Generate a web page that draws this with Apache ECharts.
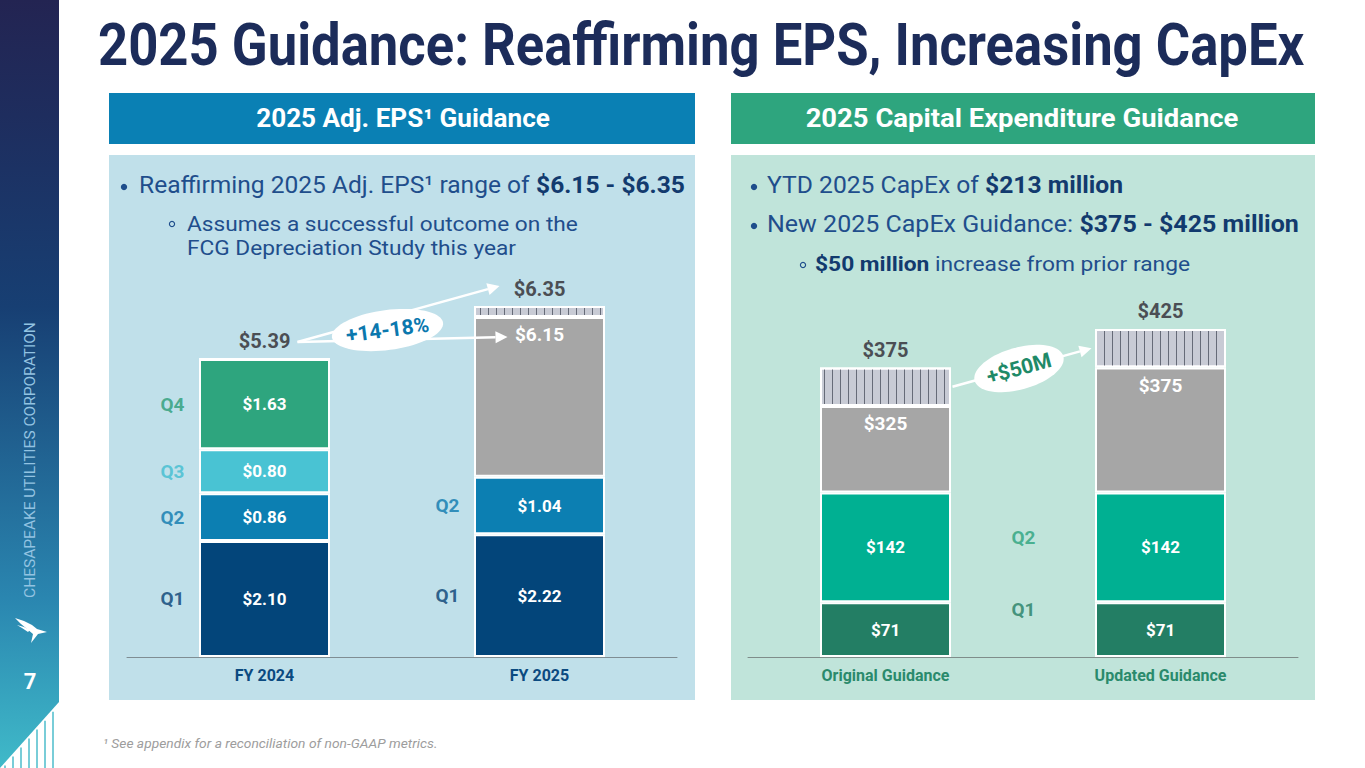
<!DOCTYPE html>
<html>
<head>
<meta charset="utf-8">
<script src="https://cdn.jsdelivr.net/npm/echarts@6/dist/echarts.min.js"></script>
<style>
html,body{margin:0;padding:0;background:#ffffff;}
#c{width:1365px;height:768px;}
</style>
</head>
<body>
<div id="c"></div>
<script>
// ---------------- DATA ----------------
const epsCategories = ['FY 2024', 'FY 2025'];
const epsQ1 = [2.10, 2.22];
const epsQ2 = [0.86, 1.04];
const epsQ3 = [0.80, null];
const epsQ4 = [1.63, null];
const epsGuideLow = [null, 6.15];
const epsGuideHigh = [null, 6.35];
const epsQuarterNames = ['Q1', 'Q2', 'Q3', 'Q4'];

const capexCategories = ['Original Guidance', 'Updated Guidance'];
const capexQ1 = [71, 71];
const capexQ2 = [142, 142];
const capexGuideLow = [325, 375];
const capexGuideHigh = [375, 425];
const capexQuarterNames = ['Q1', 'Q2'];

// ---------------- DERIVED ----------------
const epsQuarters = [epsQ1, epsQ2, epsQ3, epsQ4];
const capexQuarters = [capexQ1, capexQ2];
function sumPrev(arrs, i, k) { let s = 0; for (let j = 0; j < k; j++) { const v = arrs[j][i]; if (v != null) s += v; } return s; }
const epsRest = epsGuideLow.map((v, i) => v == null ? null : +(v - sumPrev(epsQuarters, i, 4)).toFixed(2));
const epsRange = epsCategories.map((c, i) => epsGuideLow[i] == null ? 0 : +(epsGuideHigh[i] - epsGuideLow[i]).toFixed(2));
const epsTop = epsCategories.map((c, i) => epsGuideHigh[i] != null ? epsGuideHigh[i] : +sumPrev(epsQuarters, i, 4).toFixed(2));
const capexRest = capexGuideLow.map((v, i) => v - sumPrev(capexQuarters, i, 2));
const capexRange = capexGuideHigh.map((v, i) => v - capexGuideLow[i]);

// ---------------- STYLE ----------------
const FF = 'Roboto, "Noto Sans", "DejaVu Sans", sans-serif';
const epsColors = ['#03457a', '#0c7fb2', '#49c3d3', '#2ea57e'];
const epsQLabelColors = ['#063f73', '#0b78ad', '#3fbdd0', '#2a9d77'];
const capexColors = ['#237e64', '#00b092'];
const capexQLabelColors = ['#237d63', '#2aa27c'];
const GRAY = '#a6a6a6';
const HATCH = '#c8cbd5';
const hatchDecal = { symbol: 'rect', symbolSize: 1, dashArrayX: [1, 7], dashArrayY: [4, 0], color: '#666b78', rotation: 0 };

const chart = echarts.init(document.getElementById('c'), null, { renderer: 'svg', width: 1365, height: 768 });

function valLabel(fmt, extra) {
  return Object.assign({ show: true, position: 'inside', color: '#ffffff', fontFamily: FF, fontWeight: 'bold', fontSize: 17, formatter: fmt }, extra || {});
}
function stackBar(axis, stack, name, data, color, label, extraItem) {
  return {
    type: 'bar', name: name, xAxisIndex: axis, yAxisIndex: axis, stack: stack, data: data,
    barWidth: 131,
    itemStyle: Object.assign({ color: color, borderColor: '#ffffff', borderWidth: 2 }, extraItem || {}),
    label: label,
    emphasis: { disabled: true }
  };
}

const series = [];
epsQuarters.forEach((arr, k) => {
  series.push(stackBar(0, 'eps', 'EPS ' + epsQuarterNames[k], arr, epsColors[k], valLabel(p => '$' + p.value.toFixed(2))));
});
series.push(stackBar(0, 'eps', 'EPS guidance low', epsRest, GRAY,
  valLabel(p => '$' + epsGuideLow[p.dataIndex].toFixed(2), { position: 'insideTop', distance: 8, fontSize: 19 })));
series.push(stackBar(0, 'eps', 'EPS guidance range', epsRange, HATCH,
  { show: true, position: 'top', distance: 7, color: '#4b4e54', fontFamily: FF, fontWeight: 'bold', fontSize: 20,
    formatter: p => '$' + epsTop[p.dataIndex].toFixed(2) }, { decal: hatchDecal }));

capexQuarters.forEach((arr, k) => {
  series.push(stackBar(1, 'capex', 'CapEx ' + capexQuarterNames[k], arr, capexColors[k], valLabel(p => '$' + p.value)));
});
series.push(stackBar(1, 'capex', 'CapEx guidance low', capexRest, GRAY,
  valLabel(p => '$' + capexGuideLow[p.dataIndex], { position: 'insideTop', distance: 8, fontSize: 19 })));
series.push(stackBar(1, 'capex', 'CapEx guidance range', capexRange, HATCH,
  { show: true, position: 'top', distance: 8, color: '#4b4e54', fontFamily: FF, fontWeight: 'bold', fontSize: 20,
    formatter: p => '$' + capexGuideHigh[p.dataIndex] }, { decal: hatchDecal }));

// quarter name labels (positioned at segment mid-points via the value scale)
const epsQData = [];
epsCategories.forEach((c, i) => {
  epsQuarters.forEach((arr, k) => {
    if (arr[i] == null) return;
    const mid = sumPrev(epsQuarters, i, k) + arr[i] / 2;
    epsQData.push({ value: [i, mid], name: epsQuarterNames[k], label: { color: epsQLabelColors[k], offset: [-92, 0] } });
  });
});
const capexQData = capexQuarters.map((arr, k) => ({
  value: [1, sumPrev(capexQuarters, 1, k) + arr[1] / 2], name: capexQuarterNames[k],
  label: { color: capexQLabelColors[k], offset: [-137, k === 0 ? -20 : -10] }
}));
function qSeries(axis, data) {
  return {
    type: 'scatter', xAxisIndex: axis, yAxisIndex: axis, data: data, symbolSize: 1,
    itemStyle: { color: 'rgba(0,0,0,0)' }, z: 5, emphasis: { disabled: true },
    label: { show: true, position: 'inside', fontFamily: FF, fontWeight: 'bold', fontSize: 19, formatter: p => p.name }
  };
}
series.push(qSeries(0, epsQData));
series.push(qSeries(1, capexQData));

chart.setOption({
  animation: false,
  grid: [
    { left: 127, top: 270, width: 550, height: 387 },
    { left: 748, top: 271, width: 550, height: 386 }
  ],
  xAxis: [
    { gridIndex: 0, type: 'category', data: epsCategories,
      axisLine: { lineStyle: { color: '#7f8d93', width: 1 } }, axisTick: { show: false },
      axisLabel: { color: '#0b4a80', fontFamily: FF, fontWeight: 'bold', fontSize: 16, margin: 10 } },
    { gridIndex: 1, type: 'category', data: capexCategories,
      axisLine: { lineStyle: { color: '#7f8d8a', width: 1 } }, axisTick: { show: false },
      axisLabel: { color: '#2a8a6c', fontFamily: FF, fontWeight: 'bold', fontSize: 16, margin: 10 } }
  ],
  yAxis: [
    { gridIndex: 0, type: 'value', min: 0, max: 7, show: false },
    { gridIndex: 1, type: 'value', min: 0, max: 500, show: false }
  ],
  series: series
});

// ---------------- SLIDE DECORATION ----------------
const mctx = document.createElement('canvas').getContext('2d');
function fnt(size, weight, style) { return (style || 'normal') + ' ' + (weight || 'normal') + ' ' + size + 'px ' + FF; }
function mw(t, f) { mctx.font = f; return mctx.measureText(t).width; }
function txt(x, y, t, f, fill, align, opts) {
  return Object.assign({ type: 'text', x: x, y: y, z: 10,
    style: { text: t, font: f, fill: fill, textAlign: align || 'left', align: align || 'left', textVerticalAlign: 'middle', verticalAlign: 'middle' } }, opts || {});
}
function run(x, y, segs, targetW) {
  let nat = 0;
  segs.forEach(s => { s.f = fnt(s.size, s.weight, s.style); s.w = mw(s.t, s.f); nat += s.w; });
  const k = targetW ? targetW / nat : 1;
  const out = []; let cx = x;
  segs.forEach(s => { out.push(txt(cx, y, s.t, s.f, s.color, 'left', { scaleX: k })); cx += s.w * k; });
  return out;
}
function fitCenter(cx, y, t, f, fill, targetW, opts) {
  const k = targetW / mw(t, f);
  return txt(cx, y, t, f, fill, 'center', Object.assign({ scaleX: k }, opts || {}));
}
function arrow(x1, y1, x2, y2, color, w) {
  const dx = x2 - x1, dy = y2 - y1, L = Math.hypot(dx, dy), ux = dx / L, uy = dy / L;
  const hl = 12, hw = 6;
  const bx = x2 - ux * hl, by = y2 - uy * hl;
  return [
    { type: 'line', z: 20, shape: { x1: x1, y1: y1, x2: bx, y2: by }, style: { stroke: color, lineWidth: w } },
    { type: 'polygon', z: 20, shape: { points: [[x2, y2], [bx - uy * hw, by + ux * hw], [bx + uy * hw, by - ux * hw]] }, style: { fill: color } }
  ];
}
function ellipsePts(rx, ry, n) {
  const pts = [];
  for (let i = 0; i < n; i++) { const t = 2 * Math.PI * i / n; pts.push([rx * Math.cos(t), ry * Math.sin(t)]); }
  return pts;
}
function badge(cx, cy, rx, ry, rot, t, color) {
  return [
    { type: 'polygon', x: cx, y: cy, rotation: rot, z: 21, shape: { points: ellipsePts(rx, ry, 72) }, style: { fill: '#ffffff' } },
    txt(cx, cy, t, fnt(21, 'bold'), color, 'center', { rotation: rot, z: 22 })
  ];
}
function dot(x, y) { return { type: 'circle', z: 10, shape: { cx: x, cy: y, r: 3.2 }, style: { fill: NAVY } }; }
function ring(x, y) { return { type: 'circle', z: 10, shape: { cx: x, cy: y, r: 2.6 }, style: { fill: 'none', stroke: NAVY, lineWidth: 1.2 } }; }

const NAVY = '#1f4e8c', NAVYB = '#123a6e';
let els = [];
// sidebar
els.push({ type: 'rect', z: -10, shape: { x: 0, y: 0, width: 59, height: 768 },
  style: { fill: new echarts.graphic.LinearGradient(0, 0, 0, 1, [
    { offset: 0, color: '#232452' }, { offset: 0.15, color: '#1e2d5e' }, { offset: 0.4, color: '#173f73' },
    { offset: 0.78, color: '#2a86b0' }, { offset: 1, color: '#40bac9' }]) } });
els.push({ type: 'polygon', z: -9, shape: { points: [[0, 768], [59, 702], [59, 768]] }, style: { fill: '#ffffff' } });
for (let x = 5; x < 59; x += 8) {
  const yd = 768 - (x / 59) * 66 + 3;
  els.push({ type: 'line', z: -8, shape: { x1: x, y1: yd, x2: x, y2: 768 }, style: { stroke: '#79cdd8', lineWidth: 2 } });
}
els.push(fitCenter(30, 460, 'CHESAPEAKE UTILITIES CORPORATION', fnt(14), '#93c3e2', 276, { rotation: Math.PI / 2 }));
// logo (stylised bird)
els.push({ type: 'polygon', z: 10, shape: { points: [[15, 618], [24, 621], [32, 625], [37, 629], [47, 632], [38, 634], [31, 643], [33, 634], [27, 629], [21, 624]] }, style: { fill: '#ffffff' } });
els.push({ type: 'polygon', z: 10, shape: { points: [[17, 625], [24, 627], [30, 630], [28, 632], [22, 628]] }, style: { fill: '#ffffff' } });
els.push(txt(30, 681, '7', fnt(22, 'bold'), '#ffffff', 'center'));

// title
els = els.concat(run(98, 45, [{ t: '2025 Guidance: Reaffirming EPS, Increasing CapEx', size: 60, weight: 'bold', color: '#1c2c5a' }], 1207));

// headers and panels
els.push({ type: 'rect', z: -10, shape: { x: 109, y: 93, width: 586, height: 51 }, style: { fill: '#0a80b4' } });
els.push({ type: 'rect', z: -10, shape: { x: 731, y: 93, width: 584, height: 51 }, style: { fill: '#2ea57e' } });
els.push({ type: 'rect', z: -10, shape: { x: 109, y: 155, width: 586, height: 545 }, style: { fill: '#c0e0ea' } });
els.push({ type: 'rect', z: -10, shape: { x: 731, y: 155, width: 584, height: 545 }, style: { fill: '#c0e4da' } });
els.push(fitCenter(403, 118, '2025 Adj. EPS\u00b9 Guidance', fnt(26, 'bold'), '#ffffff', 294));
els.push(fitCenter(1022, 118, '2025 Capital Expenditure Guidance', fnt(26, 'bold'), '#ffffff', 433));

// bullets - left
els.push(dot(124, 187));
els = els.concat(run(139, 185, [
  { t: 'Reaffirming 2025 Adj. EPS\u00b9 range of ', size: 24, color: NAVY },
  { t: '$6.15 - $6.35', size: 24, weight: 'bold', color: NAVYB }], 546));
els.push(ring(172, 224));
const subK = 391 / mw('Assumes a successful outcome on the', fnt(21));
els = els.concat(run(187, 224, [{ t: 'Assumes a successful outcome on the', size: 21, color: NAVY }], 391));
els.push(txt(187, 248, 'FCG Depreciation Study this year', fnt(21), NAVY, 'left', { scaleX: subK }));

// bullets - right
els.push(dot(754, 187));
els = els.concat(run(767, 185, [
  { t: 'YTD 2025 CapEx of ', size: 24, color: NAVY },
  { t: '$213 million', size: 24, weight: 'bold', color: NAVYB }], 356));
els.push(dot(754, 226));
els = els.concat(run(767, 224, [
  { t: 'New 2025 CapEx Guidance: ', size: 24, color: NAVY },
  { t: '$375 - $425 million', size: 24, weight: 'bold', color: NAVYB }], 532));
els.push(ring(803, 265));
els = els.concat(run(815, 264, [
  { t: '$50 million', size: 21, weight: 'bold', color: NAVYB },
  { t: ' increase from prior range', size: 21, color: NAVY }], 375));

// footnote
els = els.concat(run(103, 744, [{ t: '\u00b9 See appendix for a reconciliation of non-GAAP metrics.', size: 13, style: 'italic', color: '#9d9d9d' }], 335));

// annotations positioned through the chart scales
const P = (g, c, v) => chart.convertToPixel({ xAxisIndex: g, yAxisIndex: g }, [c, v]);
const a0 = P(0, 0, epsTop[0]);
const s0 = [a0[0] + 33, a0[1] - 17];
const hi1 = P(0, 1, epsTop[1]);
const lo1 = P(0, 1, epsGuideLow[1]);
els = els.concat(arrow(s0[0], s0[1], hi1[0] - 40, hi1[1] - 20, '#ffffff', 2.5));
els = els.concat(arrow(s0[0], s0[1], lo1[0] - 32, lo1[1] + 20, '#ffffff', 2.5));
els = els.concat(badge(s0[0] + 90, s0[1] - 12, 56, 20, 0.13, '+14-18%', '#0b78ae'));

const o0 = P(1, 0, (capexGuideLow[0] + capexGuideHigh[0]) / 2);
const u1 = P(1, 1, (capexGuideLow[1] + capexGuideHigh[1]) / 2);
const cs = [o0[0] + 67, o0[1]], ce = [u1[0] - 69, u1[1]];
els = els.concat(arrow(cs[0], cs[1], ce[0], ce[1], '#ffffff', 2.5));
els = els.concat(badge((cs[0] + ce[0]) / 2 - 3, (cs[1] + ce[1]) / 2 + 1, 46, 21, 0.27, '+$50M', '#1f8a68'));

chart.setOption({ graphic: { elements: els } });
</script>
</body>
</html>
